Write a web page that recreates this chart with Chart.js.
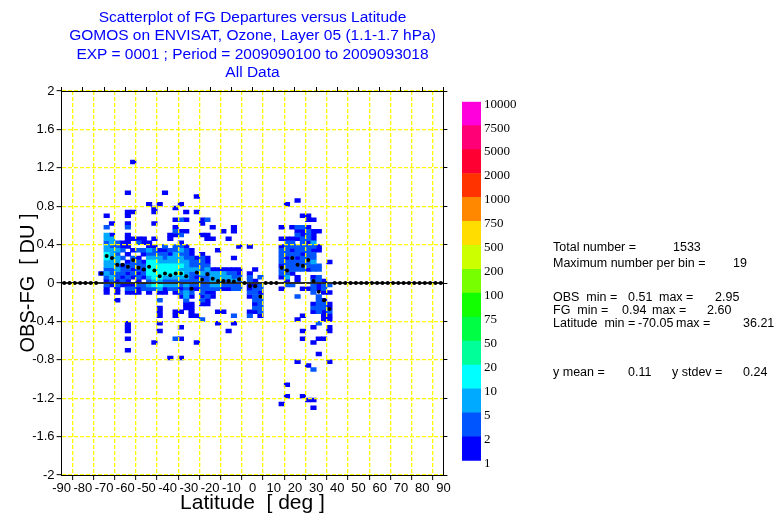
<!DOCTYPE html>
<html>
<head>
<meta charset="utf-8">
<script src="https://cdn.jsdelivr.net/npm/chart.js@4.4.0/dist/chart.umd.min.js"></script>
<style>
  body { margin: 0; background: #fff; }
  #wrap { position: relative; width: 774px; height: 518px; overflow: hidden; background: #fff; }
  canvas { position: absolute; }
  #title { position: absolute; left: 0; top: 8px; width: 505px; text-align: center; color: #0000ff;
           font: 15.5px/18.4px "Liberation Sans", Arial, sans-serif; }
  .stat { position: absolute; font: 12.5px "Liberation Sans", Arial, sans-serif; color: #000; white-space: pre; line-height: 14px; }
</style>
</head>
<body>
<div id="wrap">
  <canvas id="mainChart" width="774" height="518" style="left:0;top:0"></canvas>
  <canvas id="scaleChart" width="90" height="385" style="left:455px;top:90px"></canvas>
  <div id="title">Scatterplot of FG Departures versus Latitude<br>GOMOS on ENVISAT, Ozone, Layer 05 (1.1-1.7 hPa)<br>EXP = 0001 ; Period = 2009090100 to 2009093018<br>All Data</div>
</div>
<script>
// bin size (latitude deg, departure DU)
const binWidth = 2.5;
const binHeight = 0.04;

// cells: [lat lower edge, [departure lower edges]] per count class
const countOne = [
  [-72.5, [0.08]],
  [-70, [0.68, 0, -0.08, -0.12]],
  [-67.5, [0.60, 0.48, -0.04]],
  [-65, [0, -0.08, -0.12, -0.20]],
  [-62.5, [0.40, 0.36, 0.16, 0.04, -0.04]],
  [-60, [0.92, 0.72, 0.68, 0.60, 0.48, 0.44, 0.40, 0.36, 0.28, 0.20, 0.08, 0, -0.04, -0.12, -0.44, -0.48, -0.52, -0.60, -0.72]],
  [-57.5, [1.24, 0.72, 0.44, 0.32, 0.12, 0.04, -0.04, -0.12]],
  [-55, [0.44, 0.24, 0.08, 0, -0.08, -0.12]],
  [-52.5, [0.44, 0.40, 0.28, 0.20, 0.12, 0.04]],
  [-50, [0.80, 0.40, 0.36, -0.12]],
  [-47.5, [0.76, 0.72, 0.60, 0.44, 0.36, -0.64]],
  [-45, [0.80, 0.32, -0.12, -0.28, -0.32, -0.36, -0.44, -0.52]],
  [-42.5, [0.92, 0.32, -0.08, -0.12]],
  [-40, [0.48, 0.44, 0.28, -0.80]],
  [-37.5, [0.76, 0.64, 0.56, 0.48, -0.12, -0.32, -0.36]],
  [-35, [0.80, 0.52, 0.40, -0.08, -0.16, -0.32, -0.48, -0.60, -0.80]],
  [-32.5, [0.72, 0.64, 0.52, 0.36, -0.24, -0.28]],
  [-30, [0.32, 0.28, -0.08, -0.16, -0.24, -0.28, -0.32, -0.36]],
  [-27.5, [0.88, 0.72, 0.24, 0.04, -0.08, -0.36, -0.64]],
  [-25, [0.64, 0.60, 0.48, 0.28, -0.16, -0.24]],
  [-22.5, [0.48, 0.44, 0.24, 0.20, -0.12, -0.20, -0.24]],
  [-20, [0.56, 0.44, 0.12, -0.12, -0.16]],
  [-17.5, [0.32, 0.12, -0.32, -0.44]],
  [-15, [0.52, 0.12, -0.08, -0.32]],
  [-12.5, [0.44, 0.12, -0.08, -0.52]],
  [-10, [0.56, 0.52, 0.24, 0.12, -0.44]],
  [-7.5, [0.36, 0.12, 0.08]],
  [-2.5, [0.36, 0.08, -0.04, -0.08, -0.16, -0.32]],
  [0, [0.12, 0, -0.04, -0.24, -0.32]],
  [2.5, [-0.12, -0.36]],
  [12.5, [0.56, 0.44, 0.36, 0.16, 0.04, -0.08, -1.28]],
  [15, [0.80, 0.44, 0.24, 0, -1.08, -1.20]],
  [17.5, [0.56, 0.44, 0.32, 0.08]],
  [20, [0.84, 0.52, 0.44, 0.24, 0.04, 0, -0.40, -0.84]],
  [22.5, [0.68, 0.52, 0.48, 0.28, -0.08, -0.36, -0.52, -0.60, -1.20]],
  [25, [0.68, 0.64, 0.56, 0.40, 0.12, -0.08, -0.88, -1.24]],
  [27.5, [0.64, 0.52, 0.48, 0.44, 0.32, 0.04, -0.24, -0.32, -0.48, -0.64, -1.24, -1.32]],
  [30, [0.52, 0.36, 0.32, -0.04, -0.08, -0.60, -0.76]],
  [32.5, [0, -0.12, -0.20, -0.32, -0.36, -0.40, -0.60]],
  [35, [0.20, -0.12, -0.24, -0.28, -0.36, -0.40, -0.48, -0.52, -0.84]]
];
const countTwo = [
  [-70, [0.56, 0.40, 0.12, 0.04, -0.04]],
  [-67.5, [0.36, 0.12, 0.08, 0]],
  [-65, [0.40, 0.36, 0.28, 0.16, 0.08, 0.04, -0.04]],
  [-62.5, [0.32, 0.24, 0.12, 0.08, 0]],
  [-60, [0.56, 0.16, 0.12, 0.04, -0.08]],
  [-57.5, [0.24, 0.20, 0.16, 0.08, -0.08]],
  [-55, [0.40, 0.32, 0.20, 0.16, 0.12, 0.04, -0.04]],
  [-52.5, [0.32, 0.16, 0.08, -0.04, -0.08]],
  [-50, [0.28, 0, -0.08]],
  [-47.5, [0.32, 0.28, -0.08]],
  [-45, [0.28, -0.20]],
  [-42.5, [0.36, 0.28, 0.24, 0]],
  [-40, [0.32, 0, -0.08]],
  [-37.5, [0.52, 0.36, 0.32, 0, -0.08, -0.60]],
  [-35, [0.64, 0.48, 0.36, 0.28, 0, -0.04, -0.12]],
  [-32.5, [0.32, 0.28, 0.24, 0, -0.08, -0.20]],
  [-30, [0.24, 0.20, 0.16, 0.08, 0.04, 0, -0.04, -0.12]],
  [-27.5, [0.20, 0.16, 0.08, 0, -0.04]],
  [-25, [0.24, 0.20, 0.16, 0.12, 0.04, 0, -0.04, -0.08, -0.12, -0.20, -0.40]],
  [-22.5, [0.64, 0.16, 0.08, 0.04, 0, -0.04, -0.08, -0.16]],
  [-20, [-0.08]],
  [-17.5, [-0.08]],
  [-15, [0, -0.04]],
  [-12.5, [0.08, 0, -0.04]],
  [-10, [0.08, 0.04, -0.04, -0.08, -0.36]],
  [-7.5, [0.04, 0, -0.04, -0.08]],
  [-2.5, [0.04, 0, -0.12, -0.36]],
  [0, [-0.08, -0.12, -0.16, -0.20, -0.28]],
  [2.5, [0.04, -0.04, -0.08, -0.16, -0.20, -0.24, -0.28, -0.32]],
  [12.5, [0.32, 0.28, 0.24, 0.20, 0.12, 0.08]],
  [15, [0.40, 0.36, 0.32, 0.28, 0.20, 0.16, 0.12, 0.08, -0.04]],
  [17.5, [0.40, 0.36, 0.28, 0.24, 0.20, 0.16, 0.12, -0.04]],
  [20, [0.56, 0.48, 0.36, 0.32, 0.28, 0.20, 0.16, 0.12, -0.16]],
  [22.5, [0.56, 0.44, 0.40, 0.36, 0.32, 0.24, 0.20, 0.16, 0.12]],
  [25, [0.52, 0.48, 0.44, 0.36, 0.32, 0.28, 0.24, 0.20, 0.16]],
  [27.5, [0.36, 0.28, 0.24, 0.16, 0.12, 0, -0.04, -0.08, -0.12, -0.28, -0.92]],
  [30, [0.16, 0.12, 0.04, 0, -0.16, -0.20, -0.24, -0.28, -0.32, -0.44]],
  [32.5, [-0.04, -0.08, -0.24, -0.28]],
  [35, [-0.04, -0.32]]
];
const countFive = [
  [-70, [0.48, 0.44, 0.36, 0.32, 0.20, 0.16, 0.08]],
  [-67.5, [0.44, 0.40, 0.32, 0.28, 0.24, 0.20, 0.16, 0.04]],
  [-65, [0.32, 0.24, 0.20, 0.12]],
  [-50, [0.32, 0.24, 0.04, -0.04]],
  [-47.5, [0.24, 0]],
  [-45, [0.24, 0.20, 0, -0.08]],
  [-42.5, [0.20, 0.04, -0.04]],
  [-40, [0.24, 0.20, 0.04, -0.04]],
  [-37.5, [0.28, 0.24, 0.20, 0.04, -0.04]],
  [-35, [0.32, 0.24, 0.20, 0.12, 0.04]],
  [-32.5, [0.20, 0.16, 0.12, 0.08, 0.04, -0.04, -0.12, -0.16]],
  [-30, [0.12]],
  [-27.5, [0.12]],
  [-25, [0.08]],
  [-22.5, [0.12]],
  [-20, [0.08, 0.04, 0, -0.04]],
  [-17.5, [0.08, 0.04, 0, -0.04]],
  [-15, [0.08, 0.04]],
  [-12.5, [0.04]],
  [-10, [0]],
  [15, [0.04]],
  [27.5, [0.40, 0.20]]
];
const countTen = [
  [-70, [0.28, 0.24]],
  [-50, [0.20, 0.16, 0.12, 0.08]],
  [-47.5, [0.20, 0.16, 0.12, 0.08, 0.04, -0.04]],
  [-45, [0.16, 0.12, 0.08, 0.04, -0.04]],
  [-42.5, [0.16, 0.12, 0.08]],
  [-40, [0.16, 0.12, 0.08]],
  [-37.5, [0.16, 0.12, 0.08]],
  [-35, [0.16, 0.08]]
];

// mean departure per latitude bin, -90..90 in 2.5 deg steps (0 where empty)
const binMeans = [
  0, 0, 0, 0, 0, 0, 0,
  0.10, 0.28, 0.26, 0.19, 0.19, 0.17, 0.24, 0.16, 0.14, 0.17, 0.13, 0.07, 0.10, 0.08, 0.10,
  0.10, 0.07, -0.06, 0.11, 0.035, 0.09, 0.045, 0.02, 0.02, 0.02, 0.015, 0.04, 0, -0.03,
  -0.035, -0.14,
  0, 0, 0,
  0.16, 0.13, 0.26, 0.19, 0.18, 0.24, 0.02, -0.09, -0.18, -0.27,
  0, 0, 0, 0, 0, 0, 0, 0, 0, 0, 0, 0, 0, 0, 0, 0, 0, 0, 0, 0, 0
];

// colour bar
const scaleLabels = ['1', '2', '5', '10', '20', '50', '75', '100', '200', '500', '750', '1000', '2000', '5000', '7500', '10000'];
const scaleColors = ['#0000ff', '#0055ff', '#00aaff', '#00ffff', '#00ff99', '#00ff44', '#11ff00', '#77ff00',
                     '#ccff00', '#ffdd00', '#ff8800', '#ff3300', '#ff0033', '#ff0077', '#ff00dd'];

// statistics text
const statLines = [
  [553, 247, 'Total number ='], [673, 247, '1533'],
  [553, 263, 'Maximum number per bin ='], [733, 263, '19'],
  [553, 297, 'OBS  min ='], [628, 297, '0.51'], [659, 297, 'max ='], [715, 297, '2.95'],
  [553, 310, 'FG  min ='], [622, 310, '0.94'], [652, 310, 'max ='], [707, 310, '2.60'],
  [553, 323, 'Latitude  min ='], [638, 323, '-70.05'], [676, 323, 'max ='], [743, 323, '36.21'],
  [553, 372, 'y mean ='], [628, 372, '0.11'], [672, 372, 'y stdev ='], [743, 372, '0.24']
];

const wrap = document.getElementById('wrap');
statLines.forEach(([x, y, t]) => {
  const s = document.createElement('div');
  s.className = 'stat';
  s.style.left = x + 'px';
  s.style.top = (y - 7) + 'px';
  s.textContent = t;
  wrap.appendChild(s);
});

const sans = '"Liberation Sans", Arial, sans-serif';

function cellData(list) {
  const out = [];
  list.forEach(([lat, deps]) => {
    deps.forEach(d => out.push({ x: lat + binWidth / 2, y: [d, d + binHeight] }));
  });
  return out;
}

function cellSet(list, color) {
  return {
    type: 'bar',
    data: cellData(list),
    backgroundColor: color,
    borderWidth: 0,
    barThickness: 5.5,
    grouped: false,
    order: 2
  };
}

const meanPoints = binMeans.map((m, i) => ({ x: -90 + binWidth * i + binWidth / 2, y: m }));

const xGrid = { color: '#ffff00', lineWidth: 1.3, z: 1, tickColor: '#000', tickLength: 5, tickWidth: 1 };
// no yellow dash over the zero line
const yGrid = Object.assign({}, xGrid, {
  color: ctx => (ctx.tick && ctx.tick.value === 0 ? 'rgba(0,0,0,0)' : '#ffff00')
});
const frameOpts = { color: '#000', width: 1, dash: [4, 2], z: 2 };
const sideTicks = { display: true, drawOnChartArea: false, drawTicks: true, tickLength: 4, tickColor: '#000', z: 1 };

new Chart(document.getElementById('mainChart'), {
  type: 'scatter',
  data: {
    datasets: [
      {
        type: 'scatter',
        data: meanPoints,
        pointRadius: 2,
        pointBackgroundColor: '#000',
        pointBorderWidth: 0,
        order: 0
      },
      {
        type: 'line',
        data: [{ x: -90, y: 0 }, { x: 90, y: 0 }],
        borderColor: '#2a2a2a',
        borderWidth: 2,
        pointRadius: 0,
        order: 1
      },
      cellSet(countTen, '#00ffff'),
      cellSet(countFive, '#00aaff'),
      cellSet(countTwo, '#0055ff'),
      cellSet(countOne, '#0000ff')
    ]
  },
  options: {
    responsive: false,
    animation: false,
    events: [],
    layout: { padding: { left: 0, right: 325.6, top: 86, bottom: 0 } },
    plugins: { legend: { display: false }, tooltip: { enabled: false } },
    scales: {
      x: {
        type: 'linear', position: 'bottom', min: -90, max: 90, offset: false,
        ticks: { stepSize: 10, autoSkip: false, maxRotation: 0, padding: 1, color: '#000', font: { family: sans, size: 13 } },
        grid: xGrid,
        border: frameOpts,
        title: { display: true, text: 'Latitude  [ deg ]', color: '#000', font: { family: sans, size: 21 }, padding: { top: 0, bottom: 2 } },
        afterFit: s => { s.height = 43; }
      },
      y: {
        type: 'linear', position: 'left', min: -2, max: 2,
        ticks: { stepSize: 0.4, padding: 2, color: '#000', font: { family: sans, size: 13 },
                 callback: v => String(Math.round(v * 10) / 10) },
        grid: yGrid,
        border: frameOpts,
        title: { display: true, text: 'OBS-FG  [ DU ]', color: '#000', font: { family: sans, size: 20 }, padding: { top: 16, bottom: 0 } },
        afterFit: s => { s.width = 61.6; }
      },
      x2: {
        type: 'linear', position: 'top', min: -90, max: 90,
        ticks: { display: false, stepSize: 10 },
        grid: sideTicks,
        border: { color: '#000', width: 1, z: 2 },
        afterFit: s => { s.height = 5; }
      },
      y2: {
        type: 'linear', position: 'right', min: -2, max: 2,
        ticks: { display: false, stepSize: 0.4 },
        grid: sideTicks,
        border: { color: '#000', width: 1, z: 2 },
        afterFit: s => { s.width = 5; }
      }
    }
  }
});

new Chart(document.getElementById('scaleChart'), {
  type: 'bar',
  data: {
    labels: [''],
    datasets: scaleColors.map(c => ({
      data: [1],
      backgroundColor: c,
      borderWidth: 0,
      barPercentage: 1,
      categoryPercentage: 1
    }))
  },
  options: {
    responsive: false,
    animation: false,
    events: [],
    layout: { padding: { left: 7, right: 0, top: 11.7, bottom: 14.3 } },
    plugins: { legend: { display: false }, tooltip: { enabled: false } },
    scales: {
      x: { display: false, stacked: true },
      y: {
        stacked: true, position: 'right', min: 0, max: 15,
        ticks: { stepSize: 1, autoSkip: false, padding: 3, labelOffset: 2.5, color: '#000',
                 font: { family: '"Liberation Serif", "Times New Roman", serif', size: 13 },
                 callback: v => scaleLabels[v] },
        grid: { display: false, drawTicks: false },
        border: { display: false },
        afterFit: s => { s.width = 64; }
      }
    }
  }
});
</script>
</body>
</html>
